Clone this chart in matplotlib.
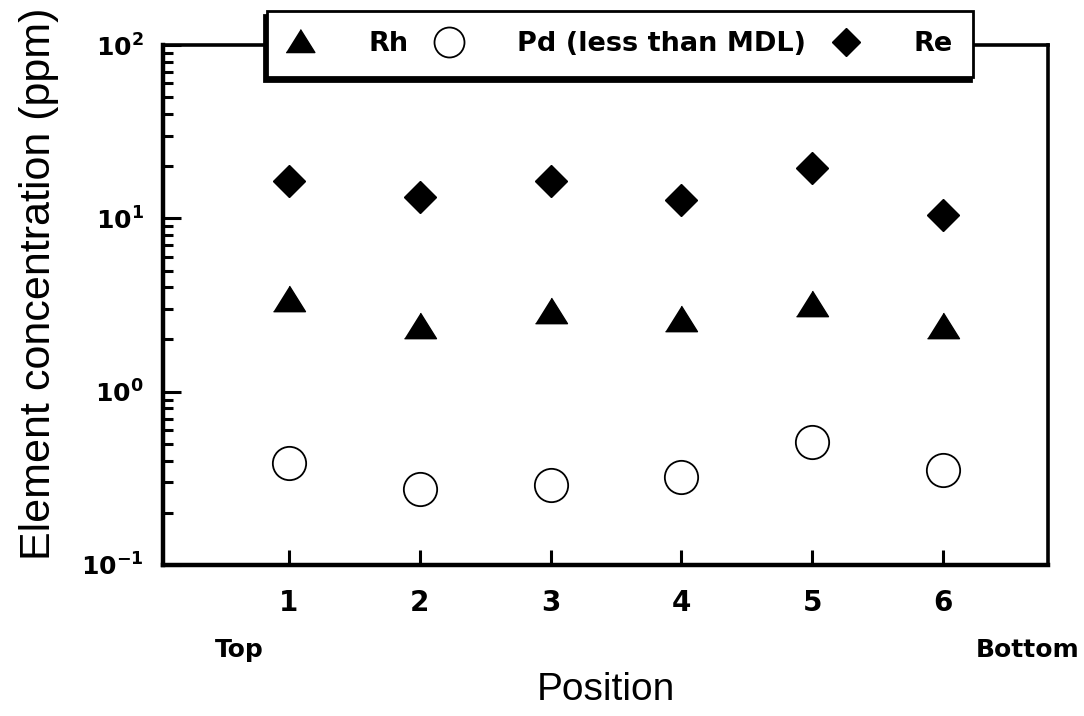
import numpy as np
import matplotlib
matplotlib.use('Agg')
import matplotlib.pyplot as plt
from matplotlib.ticker import LogLocator, NullFormatter

plt.rcParams['font.family'] = ['Liberation Sans', 'DejaVu Sans']
plt.rcParams['mathtext.fontset'] = 'dejavusans'

BOLD = {'family': 'DejaVu Sans', 'weight': 'bold'}

# Sample positions along the column, top to bottom
positions = [1, 2, 3, 4, 5, 6]

# Element concentrations (ppm)
rh = [3.4, 2.35, 2.9, 2.6, 3.15, 2.35]
pd_conc = [0.39, 0.275, 0.29, 0.32, 0.51, 0.355]
re = [16.5, 13.2, 16.5, 12.8, 19.5, 10.4]

ytick_vals = [0.1, 1, 10, 100]
ytick_labels = [r'$\mathbf{10^{-1}}$', r'$\mathbf{10^{0}}$',
                r'$\mathbf{10^{1}}$', r'$\mathbf{10^{2}}$']

# squat triangle, a bit wider than it is tall
tri = [(-1, -0.7), (1, -0.7), (0, 0.9)]

fig = plt.figure(figsize=(10.84, 7.16), dpi=100)
ax = fig.add_axes([163/1084, 151/716, 885/1084, 520/716])

ax.plot(positions, rh, linestyle='none', marker=tri, ms=23,
        color='black', label='Rh')
ax.plot(positions, pd_conc, linestyle='none', marker='o', ms=24,
        mfc='white', mec='black', mew=1.3, label='Pd (less than MDL)')
ax.plot(positions, re, linestyle='none', marker='D', ms=16,
        color='black', label='Re')

ax.set_yscale('log')
ax.set_ylim(0.1, 100)
ax.set_xlim(0.04, 6.8)

ax.set_yticks(ytick_vals)
ax.set_yticklabels(ytick_labels, fontsize=18)
ax.yaxis.set_minor_locator(LogLocator(base=10, subs=np.arange(2, 10)))
ax.yaxis.set_minor_formatter(NullFormatter())
ax.set_xticks(positions)
ax.set_xticklabels([str(p) for p in positions], fontsize=20, **BOLD)

ax.tick_params(axis='y', which='major', direction='in', length=13,
               width=2.2, pad=14)
ax.tick_params(axis='y', which='minor', direction='in', length=7.5,
               width=2.2)
ax.tick_params(axis='x', which='major', direction='in', length=11,
               width=2.2, pad=17)

for side in ['left', 'bottom']:
    ax.spines[side].set_linewidth(3.2)
for side in ['top', 'right']:
    ax.spines[side].set_linewidth(2.6)

ax.set_xlabel('Position', fontsize=28)
ax.xaxis.set_label_coords(0.5, -0.205)
ax.set_ylabel('Element concentration (ppm)', fontsize=31)
ax.yaxis.set_label_coords(-0.118, 0.54)

fig.text(215/1084, 1 - 650/716, 'Top', fontsize=18, va='center',
         ha='left', **BOLD)
fig.text(1080/1084, 1 - 650/716, 'Bottom', fontsize=18, va='center',
         ha='right', **BOLD)

leg = fig.legend(loc='center', bbox_to_anchor=(620/1084, 1 - 44/716),
                 ncol=3, prop={'family': 'DejaVu Sans', 'weight': 'bold',
                               'size': 19.5},
                 markerscale=0.9, handlelength=1.0, handletextpad=2.0,
                 columnspacing=1.0, borderpad=0.75, fancybox=False,
                 framealpha=1, edgecolor='black',
                 shadow={'ox': -2, 'oy': -3, 'shade': 0, 'alpha': 1,
                         'color': 'black'})
leg.get_frame().set_linewidth(2.0)

fig.savefig('out.png', dpi=100)
